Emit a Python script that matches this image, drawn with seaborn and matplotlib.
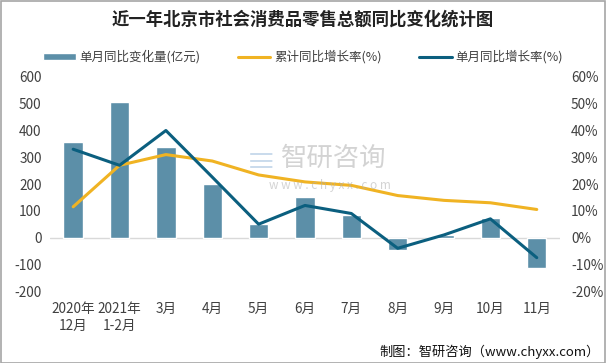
import numpy as np
import pandas as pd
import seaborn as sns
import matplotlib.pyplot as plt
from matplotlib.patches import Rectangle
from matplotlib.ticker import FuncFormatter

months = ['2020年\n12月', '2021年\n1-2月', '3月', '4月', '5月', '6月', '7月', '8月', '9月', '10月', '11月']
change_amt = [356, 506, 337, 202, 52, 150, 86, -45, 11, 75, -115]   # 单月同比变化量(亿元)
cum_rate = [11.5, 27.0, 31.0, 28.6, 23.4, 20.8, 19.5, 15.7, 13.9, 13.0, 10.5]   # 累计同比增长率(%)
month_rate = [33.0, 27.0, 40.0, 22.6, 5.0, 12.0, 9.0, -4.0, 1.0, 7.0, -7.5]   # 单月同比增长率(%)

bar_color = '#5C8FA8'
cum_color = '#F0B323'
mon_color = '#0B5F7F'

sns.set_style('white')
plt.rcParams['font.family'] = ['Noto Sans CJK SC', 'DejaVu Sans']
plt.rcParams['axes.unicode_minus'] = False

df = pd.DataFrame({'月份': months, '变化量': change_amt,
                   '累计': cum_rate, '单月': month_rate})
df['pos'] = np.arange(len(df))

fig = plt.figure(figsize=(6.06, 3.63), dpi=100)
ax = fig.add_axes([0.0825, 0.198, 0.8415, 0.59])

sns.barplot(data=df, x='月份', y='变化量', color=bar_color, width=0.42,
            saturation=1, ax=ax, label='单月同比变化量(亿元)')
ax.set_ylim(-200, 600)
ax.set_yticks(range(-200, 601, 100))
ax.set_xlim(-0.5, len(df) - 0.5)
ax.axhline(0, color='#D9D9D9', lw=1, zorder=0)

ax2 = ax.twinx()
sns.lineplot(data=df, x='pos', y='累计', color=cum_color, lw=2.2, ax=ax2,
             label='累计同比增长率(%)')
sns.lineplot(data=df, x='pos', y='单月', color=mon_color, lw=2.2, ax=ax2,
             label='单月同比增长率(%)')
ax2.set_ylim(-20, 60)
ax2.set_yticks(range(-20, 61, 10))
ax2.yaxis.set_major_formatter(FuncFormatter(lambda v, p: f'{int(v)}%'))
ax2.set_xlim(-0.5, len(df) - 0.5)

for a in (ax, ax2):
    a.set_xlabel('')
    a.set_ylabel('')
    for s in a.spines.values():
        s.set_visible(False)
    a.tick_params(length=0, labelsize=9.8, colors='#404040', pad=6)
ax.tick_params(axis='x', pad=8)
ax2.tick_params(axis='y', pad=8)

h1, l1 = ax.get_legend_handles_labels()
h2, l2 = ax2.get_legend_handles_labels()
if ax.get_legend() is not None:
    ax.get_legend().remove()
if ax2.get_legend() is not None:
    ax2.get_legend().remove()
fig.legend(h1 + h2, l1 + l2, loc='center', bbox_to_anchor=(0.5, 0.843), ncol=3,
           frameon=False, fontsize=9, handlelength=2.6, handleheight=0.5,
           columnspacing=3.0, handletextpad=0.3, labelcolor='#404040')

fig.text(0.5, 0.945, '近一年北京市社会消费品零售总额同比变化统计图', ha='center', va='center',
         fontsize=12.5, fontweight='bold', color='#222222')
fig.text(0.99, 0.03, '制图：智研咨询（www.chyxx.com）', ha='right', va='center',
         fontsize=9.5, color='#111111')

# watermark
fig.text(0.55, 0.565, '智研咨询', ha='center', va='center', fontsize=19,
         color='#B0B0B0', alpha=0.55)
fig.text(0.545, 0.49, 'w w w . c h y x x . c o m', ha='center', va='center',
         fontsize=8.5, color='#B0B0B0', alpha=0.55)
fig.text(0.43, 0.55, '≡', ha='center', va='center', fontsize=22,
         color='#A8C4E0', alpha=0.6)

fig.patches.append(Rectangle((0.001, 0.001), 0.998, 0.996, transform=fig.transFigure,
                             fill=False, edgecolor='#A6A6A6', lw=1.2))

fig.savefig('out.png', dpi=100)
